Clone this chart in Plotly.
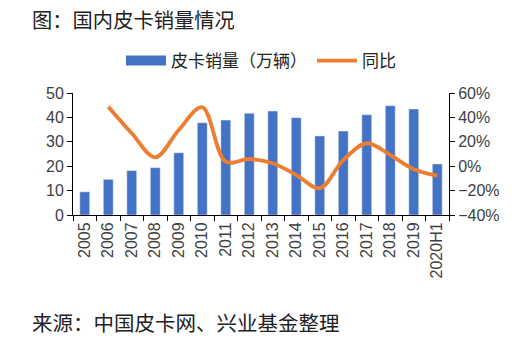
import plotly.graph_objects as go

categories = ["2005", "2006", "2007", "2008", "2009", "2010", "2011", "2012", "2013",
              "2014", "2015", "2016", "2017", "2018", "2019", "2020H1"]
sales = [9.5, 14.6, 18.2, 19.4, 25.5, 37.8, 38.9, 41.7, 42.6, 39.9, 32.4, 34.4, 41.1, 44.8, 43.4, 20.9]
yoy = [None, 48.8, 27.0, 7.3, 29.7, 48.3, 3.7, 5.9, 2.4, -7.2, -18.0, 5.0, 18.8, 9.2, -2.5, -7.8]

title_text = "图：国内皮卡销量情况"
source_text = "来源：中国皮卡网、兴业基金整理"
bar_name = "皮卡销量（万辆）"
line_name = "同比"

W, H = 512, 342
ml, mr, mt, mb = 73, 59, 93, 127
ph = H - mt - mb

font_family = "Arial, Liberation Sans, Noto Sans CJK SC"
cjk = "Noto Sans CJK SC"
txt_color = "#404040"
bar_color = "#4472C4"
line_color = "#ED7D31"

fig = go.Figure()
# legend entry for bars drawn as a wide rectangle
fig.add_trace(go.Scatter(x=[None], y=[None], mode="lines", name=bar_name,
                         line=dict(color=bar_color, width=10), yaxis="y"))
fig.add_trace(go.Bar(x=categories, y=sales, name=bar_name, marker_color=bar_color,
                     yaxis="y", showlegend=False))
fig.add_trace(go.Scatter(x=categories, y=yoy, name=line_name, mode="lines",
                         line=dict(color=line_color, width=3.8, shape="spline", smoothing=1.0),
                         yaxis="y2", connectgaps=False))

fig.update_layout(
    width=W, height=H,
    margin=dict(l=ml, r=mr, t=mt, b=mb),
    paper_bgcolor="white", plot_bgcolor="white",
    bargap=0.58,
    font=dict(family=font_family, size=16, color=txt_color),
    title=dict(text=title_text, x=32 / W, xanchor="left", xref="container",
               y=1 - 21 / H, yanchor="middle", yref="container",
               font=dict(family=cjk, size=20.3, color="#222222")),
    legend=dict(orientation="h", x=0.5, xanchor="center", y=1 + 32 / ph, yanchor="middle",
                font=dict(family=cjk, size=17, color="#222222"),
                itemwidth=40, traceorder="normal", bgcolor="rgba(0,0,0,0)"),
    xaxis=dict(type="category", tickangle=-90, showline=True, linecolor="black",
               linewidth=1, ticks="outside", ticklen=5, tickcolor="black",
               tickson="boundaries", showgrid=False,
               tickfont=dict(size=16, color=txt_color)),
    yaxis=dict(range=[0, 50], dtick=10, showline=True, linecolor="black", linewidth=1,
               ticks="outside", ticklen=5, tickcolor="black", showgrid=False,
               zeroline=False, tickfont=dict(size=16, color=txt_color)),
    yaxis2=dict(range=[-40, 60], dtick=20, overlaying="y", side="right",
                showline=True, linecolor="black", linewidth=1, ticks="outside",
                ticklen=5, tickcolor="black", showgrid=False, zeroline=False,
                ticksuffix="%", tickfont=dict(size=16, color=txt_color)),
    annotations=[dict(text=source_text, xref="paper", yref="paper",
                      x=-(ml - 30) / (W - ml - mr), xanchor="left",
                      y=-(322 - (H - mb)) / ph, yanchor="middle", showarrow=False,
                      font=dict(family=cjk, size=20.5, color="#222222"))],
)

fig.write_html("out.html")
